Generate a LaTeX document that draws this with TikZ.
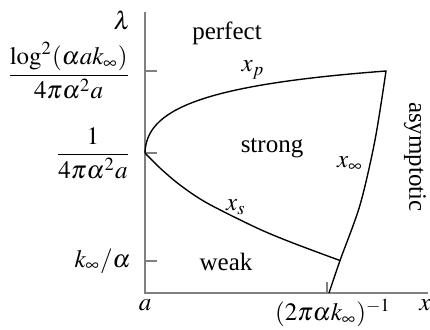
\documentclass[tikz,border=0pt]{standalone}
\usepackage{amsmath}
\usepackage{mathptmx}
\usepackage{fontspec}
\setmainfont{Liberation Serif}
\usetikzlibrary{positioning}
\definecolor{axisgray}{HTML}{808080}

\begin{document}
\begin{tikzpicture}[
    x=0.4pt, y=-0.4pt,
    font=\normalsize,
    axis/.style={draw=axisgray, line width=0.7pt},
    tickmark/.style={axis},
    curve/.style={draw=black, line width=0.55pt, line join=miter},
    ylab/.style={anchor=east, inner sep=0pt},
    regionlab/.style={inner sep=0pt},
    curvelab/.style={inner sep=0pt},
]
    \useasboundingbox (0,0) rectangle (430,329);

    % =====================================================================
    % AXES AND TICKS
    % =====================================================================
    \coordinate (O) at (145,293);
    \coordinate (ytop) at (145,12);
    \coordinate (xend) at (428,293);

    \draw[axis] (ytop) -- (O) -- (xend);

    \coordinate (tp) at (145,71);
    \coordinate (ta) at (145,153);
    \coordinate (tk) at (145,261);
    \coordinate (tx) at (327,293);

    \draw[tickmark] (tp) -- ++(12,0);
    \draw[tickmark] (ta) -- ++(12,0);
    \draw[tickmark] (tk) -- ++(12,0);
    \draw[tickmark] (tx) -- ++(0,-11);

    % axis labels
    \node[ylab] (lam) at (131,20) {$\lambda$};
    \node[ylab] (lp) at (131,71) {$\dfrac{\log^2(\alpha a k_\infty)}{4\pi\alpha^2 a}$};
    \node[ylab] (la) at (131,153) {$\dfrac{1}{4\pi\alpha^2 a}$};
    \node[ylab] (lk) at (131,261) {$k_\infty/\alpha$};
    \node[inner sep=0pt] (xa) at (145,305) {$a$};
    \node[inner sep=0pt] (xinf) at (333,313) {$(2\pi\alpha k_\infty)^{-1}$};
    \node[inner sep=0pt] (xlab) at (425,305) {$x$};

    % =====================================================================
    % PHASE BOUNDARIES
    % =====================================================================
    \coordinate (A) at (145,153);
    \coordinate (P) at (386,71);
    \coordinate (S) at (340,260.5);
    \coordinate (X) at (329,293);

    % x_p then x_inf
    \draw[curve] (A) .. controls (146,110) and (200,85) .. (P)
        -- plot[smooth] coordinates {(P) (375,140) (360,205) (S) (X)};
    % x_s
    \draw[curve] plot[smooth] coordinates {(A) (160,168) (180,185) (207,203) (257,228) (293,243) (S)};

    % curve labels
    \node[curvelab] (lxp) at (253,70) {$x_p$};
    \node[curvelab] (lxs) at (236,207) {$x_s$};
    \node[curvelab] (lxi) at (350,164) {$x_\infty$};

    % region labels
    \node[regionlab] (perfect) at (227,33) {perfect};
    \node[regionlab] (strong) at (272,148) {strong};
    \node[regionlab] (weak) at (226,262) {weak};
    \node[regionlab, rotate=-90] (asym) at (415,157) {asymptotic};

\end{tikzpicture}
\end{document}
